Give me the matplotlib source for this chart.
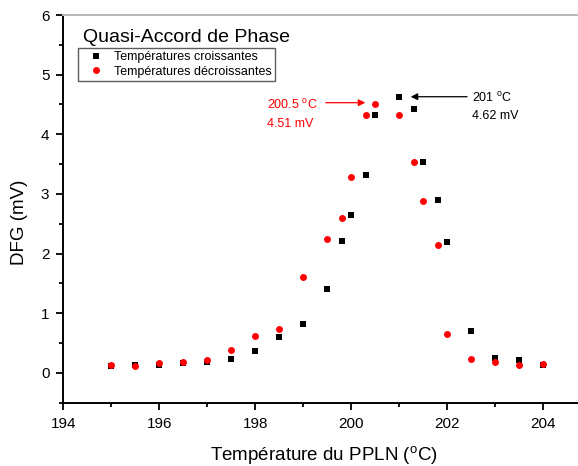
import matplotlib
matplotlib.use('Agg')
import matplotlib.pyplot as plt
from matplotlib.ticker import MultipleLocator

plt.rcParams['font.family'] = ['Liberation Sans', 'DejaVu Sans']
plt.rcParams['mathtext.fontset'] = 'custom'
plt.rcParams['mathtext.rm'] = 'Liberation Sans'

# temperatures (C)
temp = [195, 195.5, 196, 196.5, 197, 197.5, 198, 198.5, 199, 199.5, 199.8,
        200, 200.3, 200.5, 201, 201.3, 201.5, 201.8, 202, 202.5, 203, 203.5, 204]
# DFG signal (mV), temperature going up
dfg_up = [0.12, 0.14, 0.14, 0.16, 0.19, 0.24, 0.37, 0.60, 0.82, 1.40, 2.21,
          2.65, 3.32, 4.33, 4.62, 4.43, 3.53, 2.90, 2.20, 0.70, 0.25, 0.21, 0.13]
# DFG signal (mV), temperature going down
dfg_down = [0.13, 0.12, 0.16, 0.18, 0.22, 0.39, 0.62, 0.74, 1.60, 2.25, 2.59,
            3.28, 4.33, 4.51, 4.33, 3.53, 2.88, 2.14, 0.66, 0.24, 0.19, 0.13, 0.15]

fig = plt.figure(figsize=(5.78, 4.66), dpi=100)
ax = fig.add_axes([0.1095, 0.1358, 0.9135, 0.832])

ax.plot(temp, dfg_up, 's', color='black', ms=4, mew=0, label='Températures croissantes')
ax.plot(temp, dfg_down, 'o', color='red', ms=5, mew=0, label='Températures décroissantes')

ax.set_xlim(194, 205)
ax.set_ylim(-0.5, 6)
ax.xaxis.set_major_locator(MultipleLocator(2))
ax.xaxis.set_minor_locator(MultipleLocator(1))
ax.yaxis.set_major_locator(MultipleLocator(1))
ax.yaxis.set_minor_locator(MultipleLocator(0.5))
ax.tick_params(which='both', direction='out', width=1.3, labelsize=11)
ax.tick_params(which='major', length=5, pad=5)
ax.tick_params(which='minor', length=3)
ax.tick_params(top=False, right=False, which='both')

for s in ['left', 'bottom']:
    ax.spines[s].set_linewidth(1.4)
ax.spines['top'].set_color('#b8b8b8')
ax.spines['top'].set_linewidth(1.4)
ax.spines['right'].set_visible(False)

ax.set_xlabel('Température du PPLN ($^{\\mathrm{o}}$C)', fontsize=13.5, va='baseline')
ax.xaxis.set_label_coords(0.494, -0.151)
ax.set_ylabel('DFG (mV)', fontsize=13.5, va='center')
ax.yaxis.set_label_coords(-0.082, 0.465)

fig.text(83 / 578, 1 - 42 / 466, 'Quasi-Accord de Phase', fontsize=14, va='baseline')

leg = ax.legend(loc='upper left', fontsize=9, frameon=True, fancybox=False,
                edgecolor='#333333', borderpad=0.25, handletextpad=0.2,
                labelspacing=0.2, borderaxespad=0, handlelength=2.4)
leg.set_bbox_to_anchor((78 / 578, 1 - 48 / 466), transform=fig.transFigure)
leg.get_frame().set_linewidth(1.0)

# peak annotations
ax.annotate('', xy=(200.35, 4.53), xytext=(199.41, 4.53),
            arrowprops=dict(arrowstyle='-|>', color='red', lw=0.9, mutation_scale=10))
ax.text(198.24, 4.49, '200.5 $^{\\mathrm{o}}$C', color='red', fontsize=9, va='center')
ax.text(198.24, 4.17, '4.51 mV', color='red', fontsize=9, va='center')

ax.annotate('', xy=(201.18, 4.63), xytext=(202.47, 4.63),
            arrowprops=dict(arrowstyle='-|>', color='black', lw=0.9, mutation_scale=10))
ax.text(202.51, 4.61, '201 $^{\\mathrm{o}}$C', color='black', fontsize=9, va='center')
ax.text(202.51, 4.31, '4.62 mV', color='black', fontsize=9, va='center')

fig.savefig('out.png', dpi=100)
